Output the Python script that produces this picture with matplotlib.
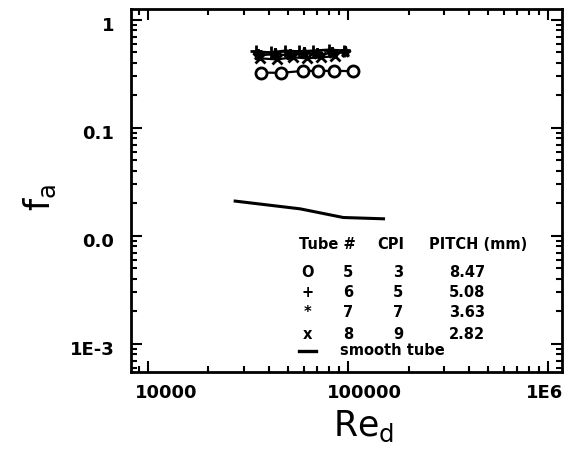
import numpy as np
import matplotlib
matplotlib.use('Agg')
import matplotlib.pyplot as plt
from matplotlib.ticker import FixedLocator, FixedFormatter, LogLocator, NullFormatter
import matplotlib.transforms as mtransforms

### data

re_tube5 = [36700, 46200, 59600, 70800, 85100, 106000]
fa_tube5 = [0.325, 0.323, 0.337, 0.337, 0.337, 0.335]

re_tube6 = [34500, 41000, 48500, 57000, 67000, 80000, 95000]
fa_tube6 = [0.51, 0.50, 0.52, 0.51, 0.52, 0.53, 0.52]

re_tube7 = [35500, 43000, 51000, 60000, 70000, 83000, 96000]
fa_tube7 = [0.47, 0.48, 0.47, 0.49, 0.48, 0.49, 0.50]

re_tube8 = [36000, 44000, 53000, 62000, 73000, 86000]
fa_tube8 = [0.44, 0.43, 0.45, 0.44, 0.45, 0.46]

re_smooth = [27200, 57500, 94400, 150000]
fa_smooth = [0.0210, 0.0178, 0.0148, 0.0144]

# legend table
leg_symbols = ['O', '+', '*', 'x']
leg_tube = ['5', '6', '7', '8']
leg_cpi = ['3', '5', '7', '9']
leg_pitch = ['8.47', '5.08', '3.63', '2.82']

xticks = [1e4, 1e5, 1e6]
xticklabels = ['10000', '100000', '1E6']
yticks = [1e-3, 1e-2, 1e-1, 1]
yticklabels = ['1E-3', '0.0', '0.1', '1']

plt.rcParams['font.family'] = ['DejaVu Sans']

fig = plt.figure(figsize=(5.73, 4.49), dpi=100)
ax = fig.add_axes([0.2286, 0.1715, 0.7522, 0.8085])

ax.set_xscale('log')
ax.set_yscale('log')
ax.set_xlim(8200, 1.17e6)
ax.set_ylim(5.5e-4, 1.26)

mk = dict(color='k', linewidth=1.6, markeredgewidth=2.0)
ax.plot(re_tube5, fa_tube5, '-o', markersize=8, markerfacecolor='white', **mk)
ax.plot(re_tube6, fa_tube6, '-+', markersize=9, **mk)
ax.plot(re_tube7, fa_tube7, '-*', markersize=8, **mk)
ax.plot(re_tube8, fa_tube8, '-x', markersize=7, **mk)
ax.plot(re_smooth, fa_smooth, '-', color='k', linewidth=2.2)

### ticks
ax.xaxis.set_major_locator(FixedLocator(xticks))
ax.xaxis.set_major_formatter(FixedFormatter(xticklabels))
ax.yaxis.set_major_locator(FixedLocator(yticks))
ax.yaxis.set_major_formatter(FixedFormatter(yticklabels))
ax.xaxis.set_minor_locator(LogLocator(base=10, subs=np.arange(2, 10), numticks=20))
ax.yaxis.set_minor_locator(LogLocator(base=10, subs=np.arange(2, 10), numticks=20))
ax.xaxis.set_minor_formatter(NullFormatter())
ax.yaxis.set_minor_formatter(NullFormatter())

ax.tick_params(which='both', direction='in', top=True, right=True, width=1.5)
ax.tick_params(which='major', length=8, labelsize=13, pad=9)
ax.tick_params(which='minor', length=4)
for lab in ax.get_xticklabels() + ax.get_yticklabels():
    lab.set_fontweight('bold')

# the scanned x labels sit a little right of their ticks
shifts = [18, 16, -4]
for lab, dx in zip(ax.get_xticklabels(), shifts):
    lab.set_transform(lab.get_transform() + mtransforms.ScaledTranslation(dx / 100, 0, fig.dpi_scale_trans))
for lab in ax.get_yticklabels():
    lab.set_transform(lab.get_transform() + mtransforms.ScaledTranslation(-4 / 100, -4 / 100, fig.dpi_scale_trans))

for s in ax.spines.values():
    s.set_linewidth(2)

ax.set_xlabel(r'Re$_\mathregular{d}$', fontsize=25, labelpad=4)
ax.xaxis.set_label_coords(0.54, -0.1)
ax.xaxis.label.set_va('top')
ax.set_ylabel(r'f$_\mathregular{a}$', fontsize=25)
ax.yaxis.set_label_coords(-0.17, 0.48)

### legend table drawn as text
tk = dict(transform=ax.transAxes, fontsize=10.5, fontweight='bold', va='center')
ax.text(0.455, 0.35, 'Tube #', ha='center', **tk)
ax.text(0.603, 0.35, 'CPI', ha='center', **tk)
ax.text(0.805, 0.35, 'PITCH (mm)', ha='center', **tk)
row_y = [0.275, 0.22, 0.163, 0.102]
for i in range(len(leg_tube)):
    ax.text(0.41, row_y[i], leg_symbols[i], ha='center', **tk)
    ax.text(0.503, row_y[i], leg_tube[i], ha='center', **tk)
    ax.text(0.62, row_y[i], leg_cpi[i], ha='center', **tk)
    ax.text(0.78, row_y[i], leg_pitch[i], ha='center', **tk)
ax.plot([0.39, 0.43], [0.058, 0.058], color='k', linewidth=2.4, transform=ax.transAxes)
ax.text(0.485, 0.058, 'smooth tube', ha='left', **tk)

fig.savefig('out.png', dpi=100)
